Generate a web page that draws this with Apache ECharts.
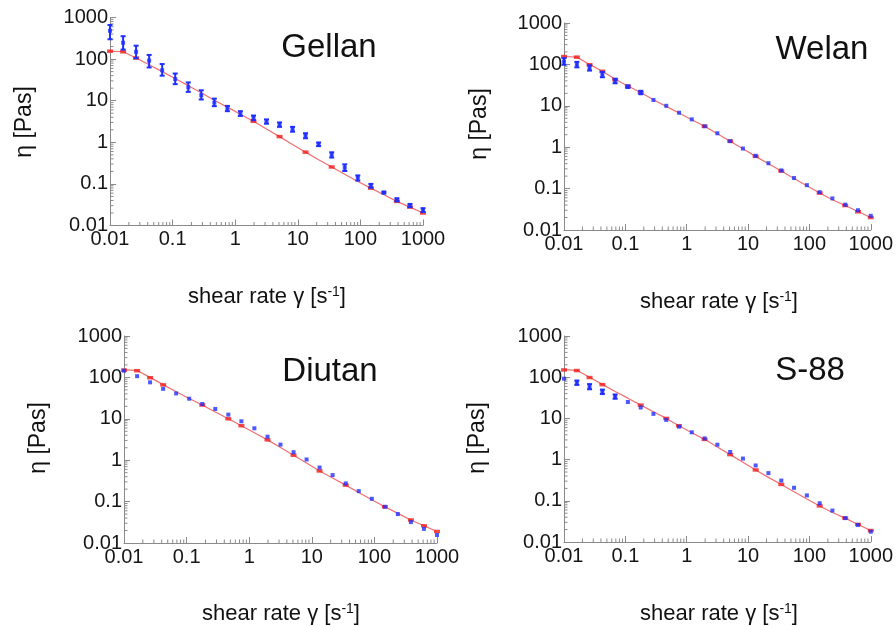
<!DOCTYPE html>
<html>
<head>
<meta charset="utf-8">
<script src="https://cdn.jsdelivr.net/npm/echarts@6/dist/echarts.min.js"></script>
<style>
html,body{margin:0;padding:0;background:#fff;}
#chart{width:896px;height:626px;}
</style>
</head>
<body>
<div id="chart"></div>
<script>
// Shear rate (x) values, shared by all four panels
const shearRate = [0.01, 0.0162, 0.0261, 0.0422, 0.0681, 0.110, 0.178, 0.287, 0.464, 0.750, 1.21, 1.96, 3.16, 5.11, 8.25, 13.3, 21.5, 34.8, 56.2, 90.9, 147, 237, 383, 619, 1000];

// Axis tick values
const decadeTicks = [0.01, 0.1, 1, 10, 100, 1000];
const minorMultipliers = [2, 3, 4, 5, 6, 7, 8, 9];

// Panel titles
const panelTitles = ['Gellan', 'Welan', 'Diutan', 'S-88'];

// Gellan
const gellanMeasured = [480, 247, 150, 92, 54, 33, 21, 13.5, 9.0, 6.5, 4.9, 3.85, 3.2, 2.67, 2.06, 1.45, 0.9, 0.5, 0.245, 0.141, 0.089, 0.062, 0.042, 0.030, 0.024];
const gellanLow = [300, 170, 105, 63, 40, 25, 16.3, 10.7, 7.4, 5.6, 4.3, 3.4, 2.8, 2.35, 1.8, 1.25, 0.81, 0.43, 0.204, 0.12, 0.081, 0.059, 0.038, 0.0276, 0.021];
const gellanHigh = [660, 355, 210, 126, 76, 45, 27.5, 17.8, 11.2, 7.5, 5.6, 4.4, 3.55, 3.0, 2.35, 1.65, 0.99, 0.575, 0.295, 0.16, 0.10, 0.065, 0.045, 0.033, 0.026];
const gellanModel = [155, 150, 106, 73, 50, 34, 23, 15.5, 10.3, 7.0, 4.7, 3.2, 2.1, 1.37, 0.89, 0.58, 0.38, 0.255, 0.17, 0.114, 0.079, 0.055, 0.038, 0.0277, 0.020];
const gellanModelMarks = [155, 150, 106, null, null, null, null, null, null, null, null, 3.2, null, 1.37, null, 0.58, null, 0.255, null, null, 0.079, null, 0.038, 0.0277, 0.020];

// Welan
const welanMeasured = [117, 98, 81, 56, 40, 29, 20, 13.8, 10.0, 6.8, 4.7, 3.2, 2.17, 1.40, 0.93, 0.62, 0.41, 0.275, 0.18, 0.121, 0.082, 0.058, 0.041, 0.030, 0.022];
const welanLow = [98, 85, 71, 49, 35, 27, 19.5, null, null, null, null, null, null, null, null, null, null, null, null, null, null, null, null, null, null];
const welanHigh = [142, 115, 95, 66, 45, 31, 23, null, null, null, null, null, null, null, null, null, null, null, null, null, null, null, null, null, null];
const welanModel = [155, 150, 100, 68, 44, 30, 21, 14, 9.7, 6.7, 4.6, 3.2, 2.12, 1.40, 0.92, 0.6, 0.4, 0.265, 0.175, 0.117, 0.078, 0.054, 0.039, 0.028, 0.020];
const welanModelMarks = [155, 150, 98, 68, 43, 29.5, 21, null, null, null, null, 3.2, null, 1.40, null, 0.6, null, 0.265, null, null, 0.078, null, 0.039, 0.0276, 0.020];

// Diutan
const diutanMeasured = [145, 107, 76, 53, 41, 30.6, 22.8, 17.3, 12.6, 8.7, 5.9, 3.7, 2.38, 1.56, 1.04, 0.665, 0.436, 0.275, 0.179, 0.117, 0.075, 0.050, 0.032, 0.022, 0.0156];
const diutanLow = [null, null, null, null, null, null, null, null, null, null, null, null, null, null, null, null, null, null, null, null, null, null, null, null, null];
const diutanHigh = [null, null, null, null, null, null, null, null, null, null, null, null, null, null, null, null, null, null, null, null, null, null, null, null, null];
const diutanModel = [152, 147, 100, 67, 45, 31, 21.5, 14.6, 10, 6.8, 4.6, 3.1, 2.03, 1.32, 0.86, 0.55, 0.37, 0.25, 0.166, 0.111, 0.075, 0.052, 0.036, 0.026, 0.019];
const diutanModelMarks = [150, 145, 98, 66, null, null, 21.5, null, 10, 6.8, null, 3.1, null, 1.32, null, 0.55, null, 0.25, null, null, 0.075, null, 0.036, 0.026, 0.019];

// S-88
const s88Measured = [92, 74, 58, 44, 34, 25, 18.4, 12.9, 9.2, 6.3, 4.6, 3.27, 2.3, 1.53, 1.06, 0.72, 0.47, 0.31, 0.207, 0.135, 0.087, 0.058, 0.038, 0.026, 0.0178];
const s88Low = [null, 65, 51, 39, 30, null, null, null, null, null, null, null, null, null, null, null, null, null, null, null, null, null, null, null, null];
const s88High = [null, 83, 68, 50, 38, null, null, null, null, null, null, null, null, null, null, null, null, null, null, null, null, null, null, null, null];
const s88Model = [152, 147, 100, 67, 45, 31, 21, 14.5, 10, 6.6, 4.5, 3.1, 2.03, 1.32, 0.86, 0.56, 0.37, 0.25, 0.166, 0.111, 0.075, 0.052, 0.038, 0.0266, 0.019];
const s88ModelMarks = [150, 145, 98, 66, null, null, 21, null, 10, 6.6, null, 3.1, null, 1.32, null, 0.56, null, 0.25, null, null, 0.075, null, 0.038, 0.0266, 0.019];

// ---------------- layout / styling ----------------
const FONT = '"Liberation Sans", Arial, Helvetica, sans-serif';
const BLUE = '#1f2fff';
const RED = '#f01e1e';
const LINE_RED = '#f07070';
const AXIS_GREY = '#8a8a8a';

const panels = [
  { title: panelTitles[0], measured: gellanMeasured, low: gellanLow, high: gellanHigh, model: gellanModel, marks: gellanModelMarks,
    grid: { left: 110, top: 17.5, width: 313, height: 208 }, titlePos: [329, 48], yNamePos: [25, 122], xNamePos: [267, 297] },
  { title: panelTitles[1], measured: welanMeasured, low: welanLow, high: welanHigh, model: welanModel, marks: welanModelMarks,
    grid: { left: 564, top: 23, width: 310, height: 207 }, titlePos: [822, 50], yNamePos: [480, 124], xNamePos: [719, 302] },
  { title: panelTitles[2], measured: diutanMeasured, low: diutanLow, high: diutanHigh, model: diutanModel, marks: diutanModelMarks,
    grid: { left: 124, top: 336, width: 313, height: 207 }, titlePos: [330, 372], yNamePos: [39, 438], xNamePos: [281, 614] },
  { title: panelTitles[3], measured: s88Measured, low: s88Low, high: s88High, model: s88Model, marks: s88ModelMarks,
    grid: { left: 564, top: 336, width: 311, height: 206 }, titlePos: [810, 371], yNamePos: [478, 438], xNamePos: [719, 614] }
];

const grids = [], xAxes = [], yAxes = [], series = [], graphics = [];

function pairs(ys) {
  const out = [];
  ys.forEach((v, i) => { if (v !== null) out.push([shearRate[i], v]); });
  return out;
}

// minor tick values (2..9 x each decade)
const minorVals = [];
decadeTicks.slice(0, 5).forEach(d => minorMultipliers.forEach(m => minorVals.push(+(d * m).toPrecision(3))));

panels.forEach((p, gi) => {
  grids.push(Object.assign({ containLabel: false }, p.grid));
  const axisCommon = {
    type: 'log', logBase: 10, min: 0.01, max: 1000, splitNumber: 5,
    gridIndex: gi,
    axisLine: { show: true, lineStyle: { color: AXIS_GREY, width: 1 } },
    axisTick: { show: true, inside: true, length: 6, lineStyle: { color: AXIS_GREY } },
    minorTick: { show: false },
    splitLine: { show: false },
    axisLabel: {
      fontFamily: FONT, fontSize: 20, color: '#151515',
      formatter: v => String(+v.toPrecision(3))
    }
  };
  xAxes.push(Object.assign({}, axisCommon, { axisLabel: Object.assign({}, axisCommon.axisLabel, { margin: 4 }) }));
  yAxes.push(Object.assign({}, axisCommon, { axisLabel: Object.assign({}, axisCommon.axisLabel, { margin: 2 }) }));

  // minor ticks drawn through the axes' own scales
  const tickData = [];
  minorVals.forEach(v => { tickData.push([v, 0.01, 0]); tickData.push([0.01, v, 1]); });
  series.push({
    type: 'custom', xAxisIndex: gi, yAxisIndex: gi, silent: true, clip: false, z: 1,
    data: tickData,
    renderItem: (params, api) => {
      const pt = api.coord([api.value(0), api.value(1)]);
      const kind = api.value(2);
      const shape = kind === 0
        ? { x1: pt[0], y1: pt[1], x2: pt[0], y2: pt[1] - 3.5 }
        : { x1: pt[0], y1: pt[1], x2: pt[0] + 3.5, y2: pt[1] };
      return { type: 'line', shape: shape, style: { stroke: AXIS_GREY, lineWidth: 1 } };
    }
  });

  // model curve
  series.push({
    type: 'line', xAxisIndex: gi, yAxisIndex: gi, data: pairs(p.model),
    showSymbol: false, symbol: 'none', silent: true, z: 2,
    lineStyle: { color: LINE_RED, width: 1.2 }
  });
  // model markers
  series.push({
    type: 'scatter', xAxisIndex: gi, yAxisIndex: gi, data: pairs(p.marks),
    symbol: 'rect', symbolSize: [6, 3.5], silent: true, z: 3,
    itemStyle: { color: RED }
  });
  // error bars
  const bars = [];
  p.low.forEach((lo, i) => { if (lo !== null && p.high[i] !== null) bars.push([shearRate[i], lo, p.high[i]]); });
  series.push({
    type: 'custom', xAxisIndex: gi, yAxisIndex: gi, silent: true, clip: false, z: 4,
    data: bars,
    renderItem: (params, api) => {
      const a = api.coord([api.value(0), api.value(1)]);
      const b = api.coord([api.value(0), api.value(2)]);
      const w = 2.5;
      const st = { stroke: BLUE, lineWidth: 2 };
      return { type: 'group', children: [
        { type: 'line', shape: { x1: a[0], y1: a[1], x2: b[0], y2: b[1] }, style: st },
        { type: 'line', shape: { x1: a[0] - w, y1: a[1], x2: a[0] + w, y2: a[1] }, style: st },
        { type: 'line', shape: { x1: b[0] - w, y1: b[1], x2: b[0] + w, y2: b[1] }, style: st }
      ]};
    }
  });
  // measured points
  series.push({
    type: 'scatter', xAxisIndex: gi, yAxisIndex: gi, data: pairs(p.measured),
    symbol: 'rect', symbolSize: [4, 4], silent: true, z: 5,
    itemStyle: { color: BLUE }
  });

  // texts
  graphics.push({
    type: 'text', x: p.titlePos[0], y: p.titlePos[1], silent: true,
    style: { text: p.title, font: '33px ' + FONT, fill: '#111', align: 'center', verticalAlign: 'middle' }
  });
  graphics.push({
    type: 'text', x: p.yNamePos[0], y: p.yNamePos[1], rotation: Math.PI / 2, silent: true,
    style: { text: 'η [Pas]', font: '23px ' + FONT, fill: '#111', align: 'center', verticalAlign: 'middle' }
  });
  graphics.push({
    type: 'text', x: p.xNamePos[0], y: p.xNamePos[1], silent: true,
    style: {
      text: 'shear rate γ [s{sup|-1}]', font: '22px ' + FONT, fill: '#111', align: 'center', verticalAlign: 'middle',
      rich: { sup: { fontSize: 14, fontFamily: FONT, fill: '#111', verticalAlign: 'top', padding: [0, 0, 10, 0] } }
    }
  });
});

const chart = echarts.init(document.getElementById('chart'), null, { renderer: 'canvas' });
chart.setOption({
  backgroundColor: '#ffffff',
  animation: false,
  grid: grids,
  xAxis: xAxes,
  yAxis: yAxes,
  series: series,
  graphic: graphics
});
</script>
</body>
</html>
